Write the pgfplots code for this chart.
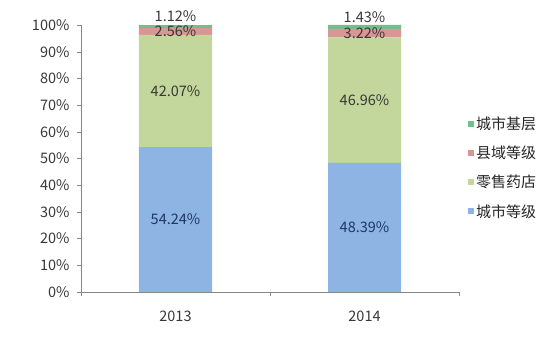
\documentclass[border=0pt]{standalone}
\usepackage{pgfplots}
\usepackage{pgfplotstable}
\pgfplotsset{compat=1.18}
\usepackage{fontspec}
\setmainfont{Noto Sans CJK SC}

\definecolor{cblue}{RGB}{141,180,226}
\definecolor{cgreen}{RGB}{195,214,155}
\definecolor{cpink}{RGB}{217,150,148}
\definecolor{cteal}{RGB}{110,192,140}
\definecolor{axgray}{RGB}{134,134,134}
\definecolor{txt}{RGB}{56,56,56}
\definecolor{navy}{RGB}{31,56,100}

\pgfplotstableread{
x city retail county base
0 54.24 42.07 2.56 1.12
1 48.39 46.96 3.22 1.43
}\shares

\begin{document}
\begin{tikzpicture}
\begin{axis}[
    width=378pt, height=267pt, scale only axis,
    ybar stacked, bar width=73pt,
    xmin=-0.5, xmax=1.5, ymin=0, ymax=100,
    axis x line*=bottom, axis y line*=left,
    axis line style={-, draw=axgray},
    tick style={draw=axgray},
    tick align=outside, major tick length=4pt,
    xtick={-0.5,0.5,1.5}, xticklabels={},
    extra x ticks={0,1}, extra x tick labels={2013,2014},
    extra x tick style={major tick length=0pt},
    ytick={0,10,...,100},
    yticklabel={\pgfmathprintnumber{\tick}\%},
    yticklabel style={xshift=-4pt},
    /pgf/number format/assume math mode=true,
    font=\fontsize{14.5}{16}\selectfont,
    tick label style={text=txt},
    xticklabel style={yshift=-15pt},
    visualization depends on=rawy \as \rawy,
    nodes near coords={\pgfmathprintnumber[fixed,precision=2,fixed zerofill]{\rawy}\%},
    every node near coord/.append style={anchor=center, text=txt},
    legend style={draw=none, fill=none, at={(1,0.672)}, anchor=north west,
        xshift=6pt, font=\fontsize{15}{16}\selectfont, text=black!85,
        row sep=11pt, cells={anchor=west}},
    legend image code/.code={\draw[#1, draw=none] (0pt,-3pt) rectangle (6pt,3pt);},
    reverse legend,
]
\addplot+[fill=cblue, draw=none, every node near coord/.append style={text=navy}]
    table[x=x, y=city] {\shares};
\addplot+[fill=cgreen, draw=none] table[x=x, y=retail] {\shares};
\addplot+[fill=cpink, draw=none] table[x=x, y=county] {\shares};
\addplot+[fill=cteal, draw=none, every node near coord/.append style={yshift=10pt}]
    table[x=x, y=base] {\shares};
\legend{城市等级, 零售药店, 县域等级, 城市基层}
\coordinate (O) at (rel axis cs:0,0);
\end{axis}
\path ([shift={(-81pt,-50pt)}]O) rectangle ([shift={(471pt,292pt)}]O);
\end{tikzpicture}
\end{document}
